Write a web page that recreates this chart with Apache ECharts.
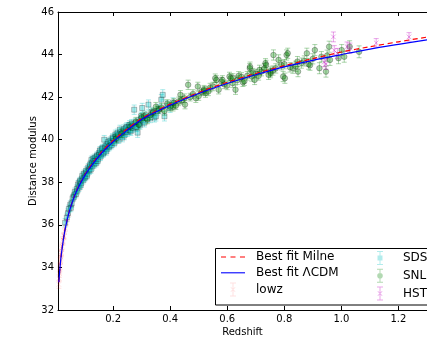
<!DOCTYPE html>
<html><head><meta charset="utf-8">
<script src="https://cdn.jsdelivr.net/npm/echarts@6/dist/echarts.min.js"></script>
<style>html,body{margin:0;padding:0;background:#fff;}#c{width:427px;height:342px;}</style>
</head><body><div id="c"></div>
<script>
// ---- data ----
const xTickValues = [0.2, 0.4, 0.6, 0.8, 1.0, 1.2];
const lcdmZ  = [0.01,0.015,0.02,0.03,0.04,0.05,0.07,0.1,0.13,0.16,0.2,0.25,0.3,0.35,0.4,0.5,0.6,0.7,0.8,0.9,1.0,1.1,1.2,1.3];
const lcdmMu = [33.3,34.15,34.75,35.65,36.28,36.78,37.52,38.3,38.88,39.37,39.9,40.45,40.95,41.3,41.62,42.17,42.64,43.05,43.42,43.73,44.0,44.26,44.48,44.69];
const milneZ  = [0.01,0.015,0.02,0.03,0.04,0.05,0.07,0.1,0.13,0.16,0.2,0.25,0.3,0.35,0.4,0.5,0.6,0.7,0.8,0.9,1.0,1.1,1.2,1.3];
const milneMu = [33.3,34.15,34.76,35.67,36.3,36.8,37.55,38.33,38.93,39.43,39.97,40.52,41.0,41.35,41.67,42.22,42.7,43.11,43.48,43.81,44.12,44.37,44.6,44.82];
// [redshift, distance modulus, error]
const lowz = [[0.010,33.2,0.18],[0.011,33.5,0.17],[0.012,33.7,0.17],[0.013,33.9,0.16],[0.014,34.05,0.16],[0.015,34.3,0.16],[0.016,34.35,0.15],[0.017,34.5,0.15],[0.018,34.7,0.15],[0.019,34.65,0.15],[0.020,34.9,0.15],[0.022,35.0,0.15],[0.024,35.3,0.15],[0.025,35.2,0.15],[0.027,35.5,0.15],[0.028,35.45,0.15],[0.030,35.7,0.15],[0.033,35.85,0.15],[0.036,36.1,0.15],[0.040,36.3,0.15],[0.045,36.55,0.15],[0.050,36.85,0.15],[0.055,37.0,0.15],[0.060,37.25,0.15],[0.070,37.5,0.15],[0.080,37.85,0.15]];
const sdss = [[0.032,36.1,0.2],[0.038,36.35,0.2],[0.042,36.55,0.2],[0.045,36.75,0.18],[0.050,36.95,0.18],[0.052,36.8,0.18],[0.055,37.0,0.18],[0.058,37.25,0.18],[0.062,37.3,0.18],[0.064,37.4,0.18],[0.066,37.55,0.18],[0.070,37.45,0.18],[0.073,37.7,0.18],[0.075,37.6,0.18],[0.077,37.9,0.18],[0.080,37.75,0.18],[0.082,38.0,0.18],[0.084,38.05,0.18],[0.086,37.85,0.18],[0.088,37.95,0.18],[0.090,38.15,0.18],[0.092,38.3,0.18],[0.095,38.1,0.18],[0.098,38.4,0.18],[0.100,38.2,0.18],[0.102,38.25,0.18],[0.104,38.45,0.18],[0.106,38.55,0.18],[0.108,38.3,0.18],[0.110,38.4,0.18],[0.113,38.7,0.18],[0.115,38.6,0.18],[0.117,38.55,0.18],[0.119,38.75,0.18],[0.120,38.85,0.18],[0.122,38.6,0.18],[0.124,39.05,0.18],[0.126,38.9,0.18],[0.128,38.75,0.18],[0.130,39.1,0.18],[0.132,39.0,0.18],[0.134,38.85,0.18],[0.136,39.15,0.18],[0.138,39.0,0.18],[0.140,38.9,0.18],[0.142,39.2,0.18],[0.144,39.25,0.18],[0.146,39.0,0.18],[0.148,39.1,0.18],[0.150,39.3,0.18],[0.152,39.4,0.18],[0.154,39.5,0.18],[0.156,39.2,0.18],[0.158,39.3,0.18],[0.160,39.55,0.18],[0.163,39.6,0.18],[0.165,39.35,0.18],[0.167,39.4,0.18],[0.169,40.0,0.2],[0.172,39.6,0.18],[0.174,39.7,0.18],[0.176,39.45,0.18],[0.178,39.55,0.18],[0.180,39.8,0.18],[0.183,39.9,0.18],[0.185,39.65,0.18],[0.188,39.7,0.18],[0.190,39.95,0.18],[0.193,39.85,0.18],[0.195,39.75,0.18],[0.198,40.1,0.18],[0.200,40.05,0.18],[0.203,39.95,0.18],[0.205,39.85,0.18],[0.208,40.25,0.2],[0.210,40.15,0.18],[0.213,40.05,0.2],[0.215,40.3,0.2],[0.218,40.2,0.2],[0.220,40.0,0.18],[0.224,40.48,0.2],[0.227,40.35,0.2],[0.230,40.25,0.2],[0.233,40.1,0.2],[0.235,40.4,0.2],[0.238,40.5,0.2],[0.240,40.2,0.2],[0.243,40.35,0.2],[0.245,40.55,0.2],[0.248,40.6,0.2],[0.250,40.35,0.2],[0.253,40.45,0.2],[0.255,40.6,0.2],[0.258,40.7,0.2],[0.260,40.45,0.2],[0.262,40.4,0.2],[0.265,40.75,0.2],[0.268,40.65,0.2],[0.270,40.55,0.2],[0.274,41.41,0.22],[0.278,40.8,0.2],[0.280,40.6,0.2],[0.283,40.6,0.2],[0.286,40.33,0.22],[0.290,40.85,0.2],[0.292,40.75,0.2],[0.295,40.7,0.2],[0.298,41.1,0.2],[0.300,41.0,0.2],[0.302,41.49,0.22],[0.305,40.9,0.2],[0.310,40.8,0.2],[0.315,41.15,0.2],[0.320,41.0,0.2],[0.324,41.65,0.22],[0.330,41.0,0.2],[0.335,41.3,0.2],[0.340,41.25,0.2],[0.345,41.05,0.22],[0.350,41.1,0.22],[0.355,41.35,0.22],[0.360,41.45,0.22],[0.369,41.88,0.24],[0.374,42.11,0.24],[0.380,41.1,0.22],[0.390,41.6,0.22],[0.400,41.5,0.22],[0.410,41.75,0.22]];
const snls = [[0.21,40.05,0.2],[0.23,40.3,0.2],[0.26,40.6,0.18],[0.28,40.85,0.2],[0.29,40.7,0.2],[0.30,41.05,0.18],[0.31,41.1,0.2],[0.32,40.95,0.2],[0.33,41.15,0.2],[0.34,41.3,0.18],[0.35,41.55,0.2],[0.36,41.4,0.18],[0.37,41.5,0.2],[0.38,41.35,0.2],[0.39,41.7,0.18],[0.40,41.55,0.2],[0.41,41.55,0.2],[0.413,41.73,0.2],[0.42,41.6,0.18],[0.43,41.8,0.2],[0.436,42.11,0.2],[0.44,41.85,0.18],[0.45,41.95,0.2],[0.452,41.65,0.2],[0.463,42.58,0.22],[0.47,42.0,0.18],[0.48,42.15,0.2],[0.49,41.95,0.2],[0.497,42.5,0.2],[0.50,42.05,0.2],[0.51,42.25,0.18],[0.519,42.35,0.2],[0.52,42.3,0.2],[0.524,42.19,0.2],[0.534,42.27,0.2],[0.54,42.45,0.2],[0.55,42.5,0.2],[0.558,42.89,0.2],[0.562,42.81,0.2],[0.57,42.35,0.2],[0.58,42.73,0.2],[0.583,42.81,0.2],[0.59,42.6,0.2],[0.60,42.55,0.2],[0.608,42.97,0.2],[0.612,42.89,0.2],[0.619,42.66,0.2],[0.62,42.9,0.2],[0.629,42.35,0.22],[0.635,42.8,0.2],[0.64,43.0,0.2],[0.65,42.95,0.2],[0.655,42.7,0.2],[0.66,42.75,0.2],[0.67,43.0,0.2],[0.679,43.36,0.22],[0.68,43.43,0.22],[0.686,42.97,0.22],[0.69,43.15,0.2],[0.696,42.81,0.22],[0.70,43.1,0.2],[0.71,43.0,0.2],[0.713,43.28,0.22],[0.72,43.2,0.2],[0.73,43.35,0.22],[0.734,43.59,0.22],[0.736,43.51,0.22],[0.745,43.05,0.22],[0.751,43.2,0.22],[0.752,43.13,0.22],[0.76,43.25,0.22],[0.762,43.98,0.24],[0.77,43.35,0.22],[0.78,43.75,0.24],[0.79,43.5,0.22],[0.796,42.97,0.24],[0.80,43.55,0.22],[0.802,42.89,0.24],[0.808,43.98,0.24],[0.812,44.06,0.24],[0.82,43.4,0.22],[0.83,43.36,0.24],[0.84,43.45,0.24],[0.846,43.67,0.24],[0.848,43.2,0.24],[0.86,43.6,0.24],[0.87,43.7,0.24],[0.879,44.06,0.24],[0.885,43.55,0.24],[0.89,43.5,0.24],[0.90,43.8,0.24],[0.907,44.21,0.26],[0.923,43.36,0.26],[0.93,43.9,0.24],[0.946,43.2,0.26],[0.95,43.95,0.26],[0.957,44.37,0.26],[0.96,43.75,0.26],[0.99,43.83,0.26],[1.001,44.21,0.26],[1.01,43.9,0.26],[1.029,44.37,0.28],[1.062,44.13,0.28]];
const hst = [[0.94,43.65,0.22],[0.946,43.55,0.24],[0.972,44.83,0.23],[0.975,44.2,0.22],[0.986,44.05,0.24],[1.02,44.37,0.22],[1.03,44.3,0.24],[1.122,44.55,0.2],[1.237,44.83,0.2]];

function zip(a, b) { return a.map((v, i) => [v, b[i]]); }

function errRender(kind, color, alpha) {
  return function (params, api) {
    const z = api.value(0), mu = api.value(1), e = api.value(2);
    const c = api.coord([z, mu]);
    const t = api.coord([z, mu + e]);
    const b = api.coord([z, mu - e]);
    const cap = 2.5;
    const ls = { stroke: color, lineWidth: 1, opacity: alpha };
    const ch = [
      { type: 'line', shape: { x1: c[0], y1: t[1], x2: c[0], y2: b[1] }, style: ls },
      { type: 'line', shape: { x1: c[0] - cap, y1: t[1], x2: c[0] + cap, y2: t[1] }, style: ls },
      { type: 'line', shape: { x1: c[0] - cap, y1: b[1], x2: c[0] + cap, y2: b[1] }, style: ls }
    ];
    if (kind === 'square') {
      ch.push({ type: 'rect', shape: { x: c[0] - 2.5, y: c[1] - 2.5, width: 5, height: 5 },
        style: { fill: color, stroke: '#000', lineWidth: 0.8, opacity: alpha } });
    } else if (kind === 'circle') {
      ch.push({ type: 'circle', shape: { cx: c[0], cy: c[1], r: 2.8 },
        style: { fill: color, stroke: '#000', lineWidth: 0.8, opacity: alpha } });
    } else {
      const s = 2.3;
      const xs = { stroke: color, lineWidth: 1, opacity: alpha };
      ch.push({ type: 'line', shape: { x1: c[0] - s, y1: c[1] - s, x2: c[0] + s, y2: c[1] + s }, style: xs });
      ch.push({ type: 'line', shape: { x1: c[0] - s, y1: c[1] + s, x2: c[0] + s, y2: c[1] - s }, style: xs });
    }
    return { type: 'group', children: ch };
  };
}

const ICON_SQ = 'path://M2,0H8V1H2Z M4.5,0H5.5V14H4.5Z M2,13H8V14H2Z M2.5,4.5H7.5V9.5H2.5Z';
const ICON_CI = 'path://M2,0H8V1H2Z M4.5,0H5.5V14H4.5Z M2,13H8V14H2Z M7.8,7A2.8,2.8 0 1 1 2.2,7A2.8,2.8 0 1 1 7.8,7Z';
const ICON_X  = 'path://M2,0H8V1H2Z M4.5,0H5.5V14H4.5Z M2,13H8V14H2Z M2.5,5L3,4.5L7.5,9L7,9.5Z M7,4.5L7.5,5L3,9.5L2.5,9Z';
const ICON_DASH = 'path://M0,0H4.5V1.1H0Z M8.5,0H13V1.1H8.5Z M17,0H21.5V1.1H17Z';
const ICON_LINE = 'path://M0,0H24V1.1H0Z';

const COL = { lowz: '#ff0000', sdss: '#00bfbf', snls: '#008000', hst: '#bf00bf' };
const FONT = 'DejaVu Sans';

const chart = echarts.init(document.getElementById('c'), null, { renderer: 'canvas' });
const axisCommon = {
  type: 'value', min: 0.007, max: 1.3,
  splitLine: { show: false },
  axisLine: { lineStyle: { color: '#000', width: 1 } }
};
const legendCommon = {
  z: 11, orient: 'vertical', top: 251, padding: 0,
  itemWidth: 24, itemHeight: 14, itemGap: 3.8,
  textStyle: { fontFamily: FONT, fontSize: 12, color: '#000', padding: [0, 0, 0, 6] }
};
chart.setOption({
  animation: false,
  backgroundColor: '#fff',
  grid: { left: 58, top: 12, width: 388, height: 300 },
  xAxis: [
    Object.assign({}, axisCommon, {
      position: 'bottom',
      name: 'Redshift', nameLocation: 'middle', nameGap: 17, nameMoveOverlap: false,
      nameTextStyle: { fontFamily: FONT, fontSize: 10, color: '#000' },
      axisTick: { inside: true, length: 4, lineStyle: { color: '#000' }, customValues: xTickValues },
      axisLabel: { fontFamily: FONT, fontSize: 10, color: '#000', margin: 4, customValues: xTickValues,
        formatter: v => Number(v).toFixed(1) }
    }),
    Object.assign({}, axisCommon, {
      position: 'top',
      axisTick: { inside: true, length: 4, lineStyle: { color: '#000' }, customValues: xTickValues },
      axisLabel: { show: false }
    })
  ],
  yAxis: {
    type: 'value', min: 32, max: 46, interval: 2,
    splitLine: { show: false },
    name: 'Distance modulus', nameLocation: 'middle', nameGap: 20, nameMoveOverlap: false,
    nameTextStyle: { fontFamily: FONT, fontSize: 10, color: '#000' },
    axisLine: { lineStyle: { color: '#000', width: 1 } },
    axisTick: { inside: true, length: 4, lineStyle: { color: '#000' } },
    axisLabel: { fontFamily: FONT, fontSize: 10, color: '#000', margin: 4 }
  },
  graphic: [{
    type: 'rect', z: 10,
    shape: { x: 215.5, y: 248.5, width: 300, height: 56.5 },
    style: { fill: '#fff', stroke: '#000', lineWidth: 1 }
  }],
  legend: [
    Object.assign({}, legendCommon, {
      left: 221,
      data: [
        { name: 'Best fit Milne', icon: ICON_DASH, itemStyle: { color: '#ff0000' } },
        { name: 'Best fit \u039BCDM', icon: ICON_LINE, itemStyle: { color: '#0000ff' } },
        { name: 'lowz', icon: ICON_X, itemStyle: { color: COL.lowz, opacity: 0.12 } }
      ]
    }),
    Object.assign({}, legendCommon, {
      left: 377,
      data: [
        { name: 'SDSS', icon: ICON_SQ, itemStyle: { color: COL.sdss, opacity: 0.3 } },
        { name: 'SNLS', icon: ICON_CI, itemStyle: { color: COL.snls, opacity: 0.3 } },
        { name: 'HST', icon: ICON_X, itemStyle: { color: COL.hst, opacity: 0.35 } }
      ]
    })
  ],
  series: [
    { name: 'lowz', type: 'custom', data: lowz, encode: { x: 0, y: 1 }, z: 2,
      itemStyle: { color: COL.lowz }, renderItem: errRender('x', COL.lowz, 0.12) },
    { name: 'SDSS', type: 'custom', data: sdss, encode: { x: 0, y: 1 }, z: 2,
      itemStyle: { color: COL.sdss }, renderItem: errRender('square', COL.sdss, 0.33) },
    { name: 'SNLS', type: 'custom', data: snls, encode: { x: 0, y: 1 }, z: 2,
      itemStyle: { color: COL.snls }, renderItem: errRender('circle', COL.snls, 0.33) },
    { name: 'HST', type: 'custom', data: hst, encode: { x: 0, y: 1 }, z: 2,
      itemStyle: { color: COL.hst }, renderItem: errRender('x', COL.hst, 0.35) },
    { name: 'Best fit Milne', type: 'line', data: zip(milneZ, milneMu), z: 3,
      showSymbol: false, symbol: 'none', smooth: 0.3,
      itemStyle: { color: '#ff0000' },
      lineStyle: { color: '#ff0000', width: 1.2, type: [5, 3.5] } },
    { name: 'Best fit \u039BCDM', type: 'line', data: zip(lcdmZ, lcdmMu), z: 4,
      showSymbol: false, symbol: 'none', smooth: 0.3,
      itemStyle: { color: '#0000ff' },
      lineStyle: { color: '#0000ff', width: 1.2 } }
  ]
});
</script>
</body></html>
